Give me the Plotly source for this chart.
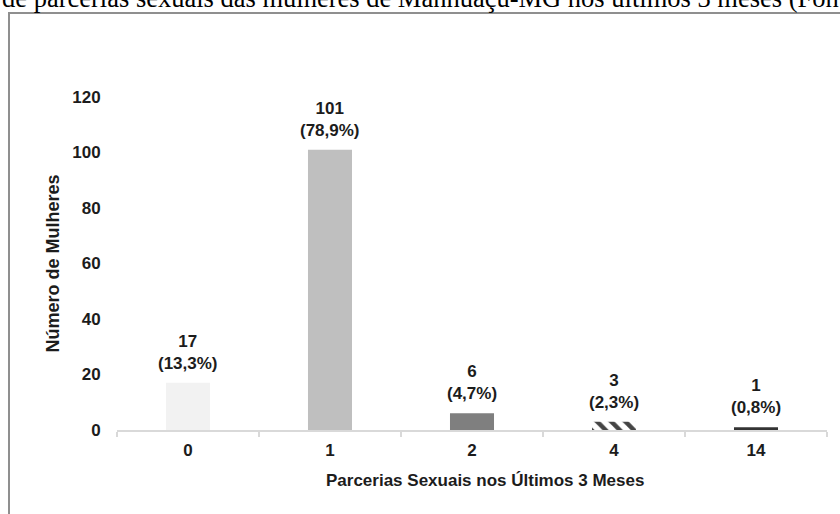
import plotly.graph_objects as go

# Number of sexual partners in the last 3 months
categorias = ["0", "1", "2", "4", "14"]
mulheres = [17, 101, 6, 3, 1]
percentuais = ["13,3%", "78,9%", "4,7%", "2,3%", "0,8%"]
cores = ["#f2f2f2", "#bfbfbf", "#7f7f7f", "#ffffff", "#333333"]
padroes = ["", "", "", "\\", ""]
ticks_y = [0, 20, 40, 60, 80, 100, 120]

W, H = 840, 514
ML, MR, MT, MB = 117, 13, 97, 84
PW, PH = W - ML - MR, H - MT - MB

def px_x(x):
    return (x - ML) / PW

def px_y(y):
    return (H - MB - y) / PH

FONT = "Liberation Sans, Arial, sans-serif"
TXT = "#1c1c1c"

fig = go.Figure(
    go.Bar(
        x=categorias,
        y=mulheres,
        width=0.31,
        marker=dict(
            color=cores,
            line=dict(width=0),
            pattern=dict(shape=padroes, fgcolor="#000000", fgopacity=1,
                         size=10, solidity=0.45, fillmode="overlay"),
        ),
        hoverinfo="skip",
    )
)

# value + percentage labels above each bar
for i, (val, pct) in enumerate(zip(mulheres, percentuais)):
    fig.add_annotation(
        x=i, y=val, xref="x", yref="y",
        text=f"<b>{val}</b><br><b>({pct})</b>",
        showarrow=False, yanchor="bottom", yshift=8,
        font=dict(family=FONT, size=17, color=TXT),
    )

# axis titles
fig.add_annotation(
    x=px_x(52), y=0.5, xref="paper", yref="paper",
    text="<b>Número de Mulheres</b>", textangle=-90,
    showarrow=False, xanchor="center", yanchor="middle",
    font=dict(family=FONT, size=18, color=TXT),
)
fig.add_annotation(
    x=px_x(485), y=px_y(480), xref="paper", yref="paper",
    text="<b>Parcerias Sexuais nos Últimos 3 Meses</b>",
    showarrow=False, xanchor="center", yanchor="middle",
    font=dict(family=FONT, size=17, color=TXT),
)

# caption line running off the top of the page
fig.add_annotation(
    x=px_x(0), y=px_y(15), xref="paper", yref="paper",
    text="de parcerias sexuais das mulheres de Manhuaçu-MG nos últimos 3 meses (Fonte: dados da pesquisa)",
    showarrow=False, xanchor="left", yanchor="bottom", align="left",
    font=dict(family="Liberation Serif, Times New Roman, serif", size=26.5, color="#000000"),
)

# chart frame
fig.add_shape(
    type="rect", xref="paper", yref="paper",
    x0=px_x(9), x1=px_x(900), y0=px_y(560), y1=px_y(13),
    line=dict(color="#8f8f8f", width=2), fillcolor="rgba(0,0,0,0)", layer="below",
)

fig.update_layout(
    width=W, height=H,
    margin=dict(l=ML, r=MR, t=MT, b=MB),
    paper_bgcolor="#ffffff", plot_bgcolor="#ffffff",
    showlegend=False,
)
fig.update_xaxes(
    type="category",
    tickprefix="<b>", ticksuffix="</b>",
    showline=True, linecolor="#d9d9d9", linewidth=1.5,
    ticks="outside", tickson="boundaries", ticklen=5,
    tickcolor="#d9d9d9", tickwidth=1.5,
    showgrid=False, zeroline=False,
    tickfont=dict(family=FONT, size=17, color=TXT),
    ticklabelstandoff=4,
)
fig.update_yaxes(
    range=[0, 120], tickvals=ticks_y,
    ticktext=[f"<b>{v}</b>" for v in ticks_y],
    showline=False, showgrid=False, zeroline=False,
    ticks="outside", ticklen=12, tickcolor="rgba(0,0,0,0)",
    tickfont=dict(family=FONT, size=17, color=TXT),
)

fig.write_html("out.html")
